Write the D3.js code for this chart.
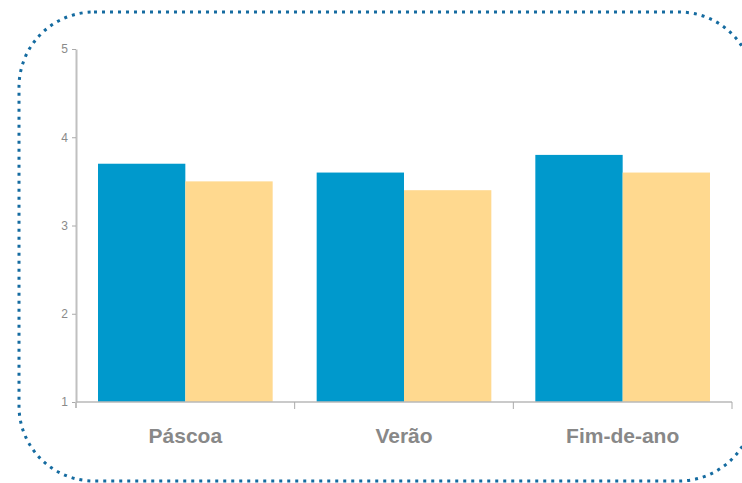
<!DOCTYPE html>
<html><head><meta charset="utf-8">
<script src="https://cdn.jsdelivr.net/npm/d3@7"></script>
<style>body{margin:0;background:#fff}svg{display:block}</style>
</head><body>
<script>
const categories = ["Páscoa", "Verão", "Fim-de-ano"];
const seriesA = [3.7, 3.6, 3.8];
const seriesB = [3.5, 3.4, 3.6];
const yTicks = [1, 2, 3, 4, 5];

const W = 742, H = 483;
const svg = d3.select("body").append("svg").attr("width", W).attr("height", H);

svg.append("rect").attr("x", 19).attr("y", 12).attr("width", 735).attr("height", 469)
  .attr("rx", 75).attr("ry", 75).attr("fill", "none")
  .attr("stroke", "#156ba0").attr("stroke-width", 3).attr("stroke-dasharray", "3,5");

const x = d3.scaleBand().domain(categories).range([76, 732]).paddingInner(0).paddingOuter(0);
const y = d3.scaleLinear().domain([1, 5]).range([402, 49]);
const sub = d3.scaleBand().domain(["a", "b"]).range([22, x.bandwidth() - 22]).paddingInner(0).paddingOuter(0);

const g = svg.append("g");
categories.forEach((c, i) => {
  [["a", seriesA[i], "#0099cc"], ["b", seriesB[i], "#ffd98f"]].forEach(([k, v, col]) => {
    g.append("rect").attr("x", x(c) + sub(k)).attr("width", sub.bandwidth())
      .attr("y", y(v)).attr("height", y(1) - y(v)).attr("fill", col);
  });
});

// y axis
const ya = svg.append("g").attr("transform", "translate(76,0)")
  .call(d3.axisLeft(y).tickValues(yTicks).tickFormat(d3.format("d")).tickSize(4).tickSizeOuter(0).tickPadding(4));
ya.select(".domain").attr("stroke", "#c0c0c0").attr("stroke-width", 2);
ya.selectAll(".tick line").attr("stroke", "#aaa");
ya.selectAll("text").attr("fill", "#8a8a8a").style("font-family", "Liberation Sans, Arial, sans-serif").style("font-size", "12px");
svg.append("line").attr("x1", 76).attr("x2", 76).attr("y1", 402).attr("y2", 408).attr("stroke", "#c0c0c0").attr("stroke-width", 2);

// x axis
svg.append("line").attr("x1", 76).attr("x2", 732).attr("y1", 402).attr("y2", 402).attr("stroke", "#b8b8b8").attr("stroke-width", 1.5);
const bounds = categories.map(c => x(c) + x.bandwidth());
svg.selectAll(".xt").data(bounds).enter().append("line")
  .attr("x1", d => d).attr("x2", d => d).attr("y1", 402).attr("y2", 409)
  .attr("stroke", "#aaa").attr("stroke-width", 1);
svg.selectAll(".xl").data(categories).enter().append("text")
  .attr("x", d => x(d) + x.bandwidth() / 2).attr("y", 443).attr("text-anchor", "middle")
  .attr("fill", "#888").style("font-family", "Liberation Sans, Arial, sans-serif")
  .style("font-weight", "bold").style("font-size", "21px").text(d => d);
</script>
</body></html>
